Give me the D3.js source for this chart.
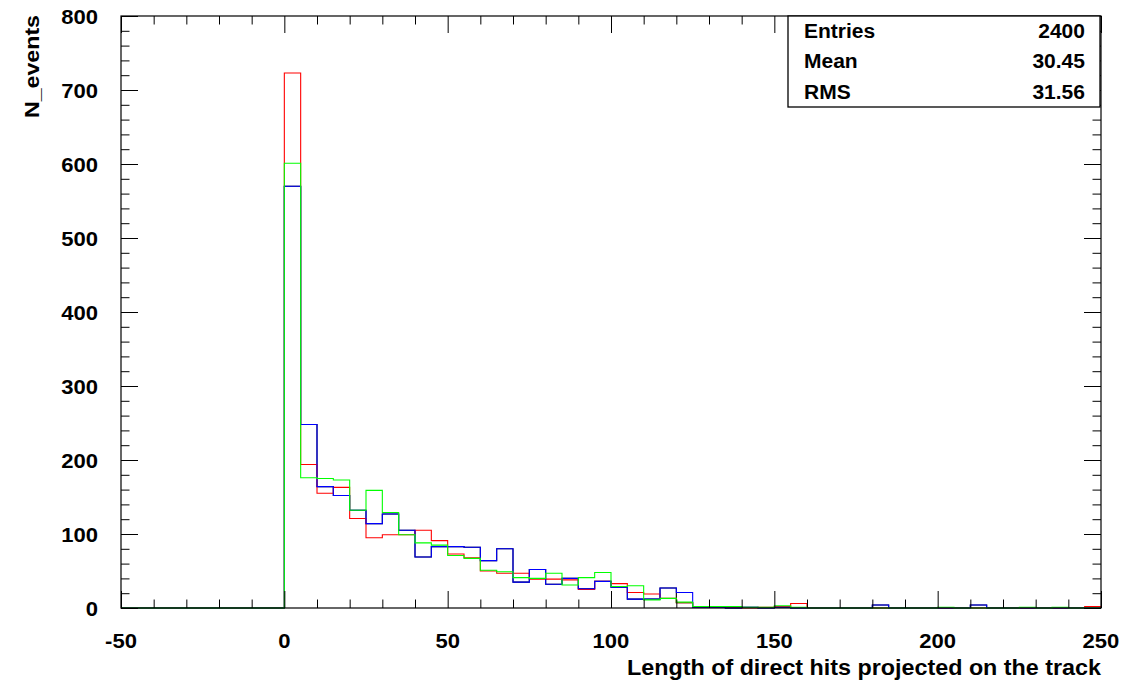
<!DOCTYPE html>
<html>
<head>
<meta charset="utf-8">
<script src="https://cdn.jsdelivr.net/npm/d3@7"></script>
<style>
  html, body { margin: 0; padding: 0; background: #fff; }
  svg text { font-family: "Liberation Sans", Arial, Helvetica, sans-serif; font-weight: bold; fill: #000; }
</style>
</head>
<body>
<svg id="chart" width="1126" height="684"></svg>
<script>
// Histogram binning: 5-unit bins starting at 0, axis shown from -50 to 250
const binStart = 0;
const binWidth = 5;
const axisMin = -50;
const axisMax = 250;

// Bin contents for each sample (bins [0,5), [5,10), ... [245,250))
const blackCounts = [570, 248, 164, 152, 132, 114, 127, 105, 69, 83,
                     83, 82, 64, 80, 35, 52, 32, 40, 26, 36,
                     28, 12, 12, 27, 7, 1, 1, 0, 1, 0,
                     1, 0, 0, 0, 0, 0, 4, 0, 0, 0,
                     0, 0, 4, 0, 0, 0, 0, 0, 0, 0];
const redCounts   = [723, 194, 155, 163, 121, 95, 99, 99, 105, 91,
                     73, 68, 50, 47, 47, 39, 39, 38, 25, 36,
                     33, 21, 19, 13, 7, 1, 1, 1, 0, 1,
                     2, 6, 0, 0, 0, 0, 0, 0, 0, 0,
                     0, 0, 0, 0, 0, 0, 0, 0, 0, 2];
const blueCounts  = [570, 248, 164, 152, 132, 114, 127, 105, 69, 83,
                     83, 82, 64, 80, 35, 52, 32, 40, 26, 36,
                     28, 12, 12, 27, 21, 1, 1, 0, 1, 0,
                     1, 0, 0, 0, 0, 0, 4, 0, 0, 0,
                     0, 0, 4, 0, 0, 0, 0, 0, 0, 0];
const greenCounts = [601, 176, 175, 173, 132, 159, 129, 99, 88, 85,
                     71, 67, 51, 49, 41, 40, 47, 31, 41, 48,
                     29, 30, 11, 13, 8, 2, 2, 2, 1, 1,
                     3, 1, 0, 0, 0, 0, 0, 0, 0, 0,
                     1, 0, 0, 0, 0, 1, 0, 1, 0, 0];

const seriesNames  = ["black", "red", "blue", "green"];
const seriesColors = ["#000000", "#ff0000", "#0000ff", "#00ff00"];
const seriesCounts = [blackCounts, redCounts, blueCounts, greenCounts];

// Axis ticks and labels
const xMajorTicks = [-50, 0, 50, 100, 150, 200, 250];
const xMinorTicks = d3.range(-50, 251, 10);
const yMajorTicks = [0, 100, 200, 300, 400, 500, 600, 700, 800];
const yMinorTicks = d3.range(0, 801, 20);

// Statistics box contents
const statLabels = ["Entries", "Mean", "RMS"];
const statValues = ["2400", "30.45", "31.56"];

const xTitle = "Length of direct hits projected on the track";
const yTitle = "N_events";

// Frame geometry
const frame = { left: 121, right: 1101, top: 16, bottom: 608 };
const majorLen = 17, minorLen = 8.5;

const svg = d3.select("#chart");
const x = d3.scaleLinear().domain([axisMin, axisMax]).range([frame.left, frame.right]);
const y = d3.scaleLinear().domain([0, 800]).range([frame.bottom, frame.top]);

// Step outlines of each histogram
const line = d3.line()
  .x(d => x(d[0]))
  .y(d => y(d[1]))
  .curve(d3.curveStepAfter);

function histPoints(counts) {
  const pts = [[axisMin, 0]];
  counts.forEach((c, i) => pts.push([binStart + i * binWidth, c]));
  pts.push([binStart + counts.length * binWidth, counts[counts.length - 1]]);
  return pts;
}

const plot = svg.append("g");
seriesCounts.forEach((counts, i) => {
  plot.append("path")
    .attr("class", "hist " + seriesNames[i])
    .attr("d", line(histPoints(counts)))
    .attr("fill", "none")
    .attr("stroke", seriesColors[i])
    .attr("stroke-width", 1.1);
});

// Axes: ticks on all four sides pointing into the frame
function tickAxis(gen, scale, values, len, transform) {
  svg.append("g")
    .attr("transform", transform)
    .call(gen(scale).tickValues(values).tickSize(-len).tickFormat(""))
    .call(g => g.select(".domain").remove())
    .call(g => g.selectAll("line").attr("stroke", "#000").attr("stroke-width", 1));
}
const xMinorOnly = xMinorTicks.filter(v => !xMajorTicks.includes(v));
const yMinorOnly = yMinorTicks.filter(v => !yMajorTicks.includes(v));

tickAxis(d3.axisBottom, x, xMajorTicks, majorLen, `translate(0,${frame.bottom})`);
tickAxis(d3.axisBottom, x, xMinorOnly, minorLen, `translate(0,${frame.bottom})`);
tickAxis(d3.axisTop, x, xMajorTicks, majorLen, `translate(0,${frame.top})`);
tickAxis(d3.axisTop, x, xMinorOnly, minorLen, `translate(0,${frame.top})`);
tickAxis(d3.axisLeft, y, yMajorTicks, majorLen, `translate(${frame.left},0)`);
tickAxis(d3.axisLeft, y, yMinorOnly, minorLen, `translate(${frame.left},0)`);
tickAxis(d3.axisRight, y, yMajorTicks, majorLen, `translate(${frame.right},0)`);
tickAxis(d3.axisRight, y, yMinorOnly, minorLen, `translate(${frame.right},0)`);

// Frame
svg.append("rect")
  .attr("x", frame.left).attr("y", frame.top)
  .attr("width", frame.right - frame.left).attr("height", frame.bottom - frame.top)
  .attr("fill", "none").attr("stroke", "#000").attr("stroke-width", 1.2);

// Tick labels (slightly widened, as in the ROOT Helvetica rendering)
function widen(sel, factor) {
  sel.each(function () {
    const w = this.getComputedTextLength();
    d3.select(this).attr("textLength", w * factor).attr("lengthAdjust", "spacingAndGlyphs");
  });
}

svg.append("g").selectAll("text").data(xMajorTicks).join("text")
  .attr("x", d => x(d)).attr("y", 648)
  .attr("text-anchor", "middle")
  .attr("font-size", 21)
  .text(d => d)
  .call(widen, 1.05);

svg.append("g").selectAll("text").data(yMajorTicks).join("text")
  .attr("x", 98).attr("y", d => y(d) + 7.5)
  .attr("text-anchor", "end")
  .attr("font-size", 21)
  .text(d => d)
  .call(widen, 1.05);

// Axis titles
svg.append("text")
  .attr("x", frame.right).attr("y", 675)
  .attr("text-anchor", "end")
  .attr("font-size", 21.5)
  .attr("textLength", 474)
  .attr("lengthAdjust", "spacingAndGlyphs")
  .text(xTitle);

svg.append("text")
  .attr("transform", `translate(39,${frame.top - 1}) rotate(-90)`)
  .attr("text-anchor", "end")
  .attr("font-size", 21)
  .attr("textLength", 103)
  .attr("lengthAdjust", "spacingAndGlyphs")
  .text(yTitle);

// Statistics box
const box = { left: 788, right: 1100, top: 16, bottom: 107 };
svg.append("rect")
  .attr("x", box.left).attr("y", box.top)
  .attr("width", box.right - box.left).attr("height", box.bottom - box.top)
  .attr("fill", "#fff").attr("stroke", "#000").attr("stroke-width", 1.3);
const rowY = [31, 61, 92];
statLabels.forEach((lab, i) => {
  const cy = rowY[i] + 7;
  svg.append("text").attr("x", 804).attr("y", cy).attr("font-size", 20).text(lab)
    .call(widen, 1.05);
  svg.append("text").attr("x", 1085).attr("y", cy).attr("text-anchor", "end")
    .attr("font-size", 20).text(statValues[i])
    .call(widen, 1.05);
});
</script>
</body>
</html>
